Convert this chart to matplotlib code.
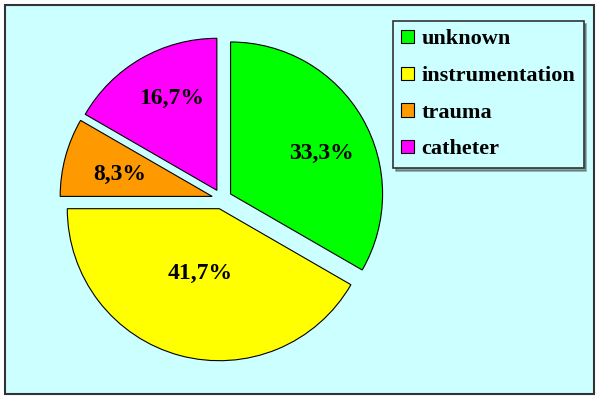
import matplotlib
matplotlib.use("Agg")
import matplotlib.pyplot as plt
from matplotlib.patches import Rectangle
import numpy as np

categories = ["unknown", "instrumentation", "trauma", "catheter"]
values = [4, 5, 1, 2]
labels = ["33,3%", "41,7%", "8,3%", "16,7%"]
colors = ["#00FF00", "#FFFF00", "#FF9900", "#FF00FF"]
label_dist = [0.66, 0.43, 0.63, 0.69]
label_rot = [-4.5, -2.3, 0.0, -4.5]

plt.rcParams['font.family'] = ['Liberation Serif', 'DejaVu Serif']
plt.rcParams['font.weight'] = 'bold'

fig = plt.figure(figsize=(6, 4), dpi=100)
fig.patch.set_facecolor("white")

bg = Rectangle((5/600, 6/400), 589/600, 389/400, transform=fig.transFigure,
               facecolor="#CCFFFF", edgecolor="#333333", linewidth=1.5, zorder=-10)
fig.patches.append(bg)

ax = fig.add_axes([0.0658, 0.04625, 0.608, 0.9125])
ax.set_zorder(1)
ax.set_facecolor("none")
wedges, _ = ax.pie(values, colors=colors, startangle=90, counterclock=False,
                   explode=[0.066] * 4,
                   wedgeprops=dict(edgecolor="black", linewidth=0.8))
ax.set_xlim(-1.2, 1.2)
ax.set_ylim(-1.2, 1.2)
ax.set_aspect("equal")
ax.axis("off")

for w, lab, d, rot in zip(wedges, labels, label_dist, label_rot):
    ang = np.deg2rad((w.theta1 + w.theta2) / 2 + rot)
    cx, cy = w.center
    ax.text(cx + d * w.r * np.cos(ang), cy + d * w.r * np.sin(ang), lab,
            ha="center", va="center_baseline", fontsize=17, fontweight="bold")

leg = fig.legend(wedges, categories, loc="upper left",
                 bbox_to_anchor=(393/600, 1 - 21/400), fontsize=16,
                 frameon=True, fancybox=False, shadow=True,
                 handlelength=0.55, handleheight=0.55, handletextpad=0.35,
                 labelspacing=0.75, borderpad=0.38, borderaxespad=0)
leg.set_zorder(2)
leg.get_frame().set_facecolor("#CCFFFF")
leg.get_frame().set_edgecolor("#333333")
leg.get_frame().set_linewidth(1.2)
for t in leg.get_texts():
    t.set_fontweight("bold")

fig.savefig("out.png", dpi=100, facecolor="white")
